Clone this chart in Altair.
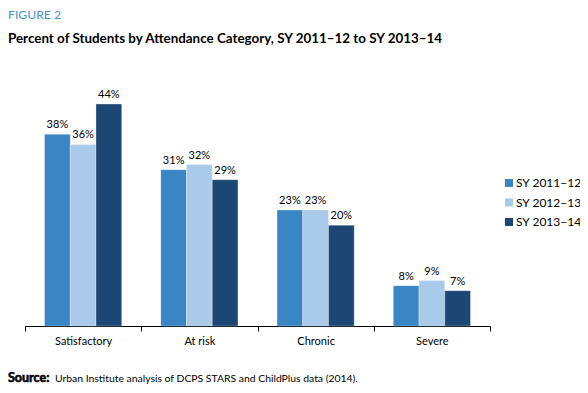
import altair as alt
import pandas as pd

categories = ["Satisfactory", "At risk", "Chronic", "Severe"]
years = ["SY 2011–12", "SY 2012–13", "SY 2013–14"]
sy2011 = [38, 31, 23, 8]
sy2012 = [36, 32, 23, 9]
sy2013 = [44, 29, 20, 7]
colors = ["#3a86c4", "#a9cbe9", "#1c4673"]

rows = []
for i, c in enumerate(categories):
    for y, vals in zip(years, [sy2011, sy2012, sy2013]):
        rows.append({"category": c, "year": y, "value": vals[i], "label": f"{vals[i]}%"})
df = pd.DataFrame(rows)

FONT = "Lato"

x = alt.X("category:N", sort=categories, title=None,
          scale=alt.Scale(paddingInner=0, paddingOuter=0),
          axis=alt.Axis(labelAngle=0, labelFont=FONT, labelFontSize=11, labelColor="#000",
                        domainColor="#000", tickColor="#000", tickSize=5, tickBand="extent",
                        labelPadding=4, grid=False))
xo = alt.XOffset("year:N", sort=years, scale=alt.Scale(paddingInner=0, paddingOuter=0.76))
y = alt.Y("value:Q", scale=alt.Scale(domain=[0, 46]), axis=None)

bars = alt.Chart(df).mark_bar(stroke="#ffffff", strokeOpacity=0.3, strokeWidth=1).encode(
    x=x, xOffset=xo, y=y,
    color=alt.Color("year:N", sort=years, scale=alt.Scale(domain=years, range=colors),
                    legend=alt.Legend(title=None, orient="none", legendX=478, legendY=83,
                                      symbolType="square", symbolSize=64, symbolStrokeWidth=0,
                                      labelFont=FONT, labelFontSize=12, labelColor="#000",
                                      labelLimit=300, rowPadding=7.5, labelOffset=1, padding=0)),
)

labels = alt.Chart(df).mark_text(font=FONT, fontSize=11, color="#000", baseline="bottom", dy=-4).encode(
    x=x, xOffset=xo, y=y, text="label:N"
)

fig = alt.Chart(pd.DataFrame({"t": ["FIGURE 2"]})).mark_text(
    font=FONT, fontSize=12.2, color="#4a90cc", align="left", baseline="alphabetic"
).encode(x=alt.value(-17), y=alt.value(-75), text="t:N")

ttl = alt.Chart(pd.DataFrame({"t": ["Percent of Students by Attendance Category, SY 2011–12 to SY 2013–14"]})).mark_text(
    font=FONT, fontSize=13.4, fontWeight="bold", color="#000", align="left", baseline="alphabetic"
).encode(x=alt.value(-17), y=alt.value(-51), text="t:N")

src_b = alt.Chart(pd.DataFrame({"t": ["Source:"]})).mark_text(
    font=FONT, fontSize=12.5, fontWeight="bold", color="#000", align="left", baseline="alphabetic",
    stroke="#000", strokeWidth=0.6
).encode(x=alt.value(-17), y=alt.value(288), text="t:N")

src = alt.Chart(pd.DataFrame({"t": ["Urban Institute analysis of DCPS STARS and ChildPlus data (2014)."]})).mark_text(
    font=FONT, fontSize=10.4, color="#000", align="left", baseline="alphabetic"
).encode(x=alt.value(30), y=alt.value(288), text="t:N")

chart = alt.layer(bars, labels, fig, ttl, src_b, src).properties(
    width=465, height=232,
    autosize=alt.AutoSizeParams(type="none"),
    padding={"left": 17, "top": 86, "right": 90, "bottom": 59},
).configure(background="#ffffff").configure_view(stroke=None, strokeWidth=0)

chart.save("out.html", embed_options={"renderer": "svg", "actions": False})
